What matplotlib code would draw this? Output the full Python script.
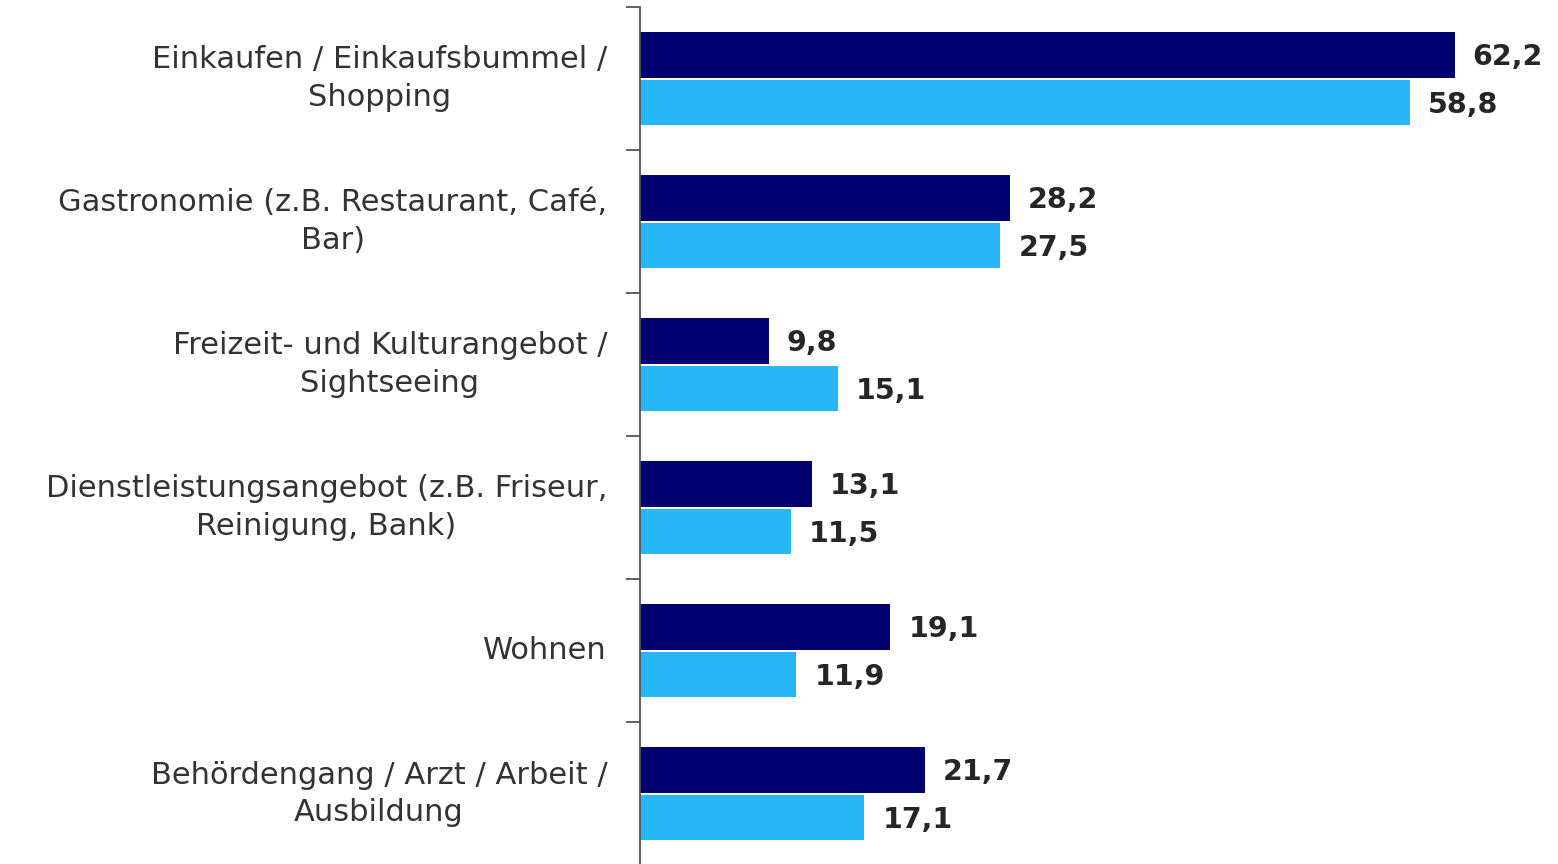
import matplotlib.pyplot as plt
import numpy as np

categories = [
    "Einkaufen / Einkaufsbummel /\nShopping",
    "Gastronomie (z.B. Restaurant, Café,\nBar)",
    "Freizeit- und Kulturangebot /\nSightseeing",
    "Dienstleistungsangebot (z.B. Friseur,\nReinigung, Bank)",
    "Wohnen",
    "Behördengang / Arzt / Arbeit /\nAusbildung",
]
series_dark = [62.2, 28.2, 9.8, 13.1, 19.1, 21.7]
series_light = [58.8, 27.5, 15.1, 11.5, 11.9, 17.1]

dark_color = "#000070"
light_color = "#29B6F6"
text_color = "#333333"

fig = plt.figure(figsize=(15.58, 8.64), dpi=100)
ax = fig.add_axes([0.4111, -0.0012, 0.5889, 0.9931])

y = np.arange(len(categories))
h = 0.32
ax.barh(y - 0.167, series_dark, height=h, color=dark_color)
ax.barh(y + 0.167, series_light, height=h, color=light_color)

for yi, v in zip(y, series_dark):
    ax.annotate(f"{v:.1f}".replace(".", ","), (v, yi - 0.15), xytext=(13, 0),
                textcoords="offset points", ha="left", va="center",
                fontsize=20.5, fontweight="bold", color="#262626")
for yi, v in zip(y, series_light):
    ax.annotate(f"{v:.1f}".replace(".", ","), (v, yi + 0.185), xytext=(13, 0),
                textcoords="offset points", ha="left", va="center",
                fontsize=20.5, fontweight="bold", color="#262626")

ax.set_xlim(0, 70.1)
ax.set_ylim(len(categories) - 0.5, -0.5)

# category names sit between the boundary ticks
ax.set_yticks(y)
ax.set_yticklabels(categories, fontsize=22, color=text_color,
                   multialignment="center", linespacing=1.35)
for lab in ax.get_yticklabels():
    lab.set_verticalalignment("center")
ax.tick_params(axis="y", which="major", length=0, pad=24)
ax.set_yticks(np.arange(-0.5, len(categories)), minor=True)
ax.tick_params(axis="y", which="minor", length=10, width=1.3, color="#555555")
ax.set_xticks([])

for side in ["top", "right", "bottom"]:
    ax.spines[side].set_visible(False)
ax.spines["left"].set_color("#555555")
ax.spines["left"].set_linewidth(1.3)

fig.savefig("out.png", dpi=100)
